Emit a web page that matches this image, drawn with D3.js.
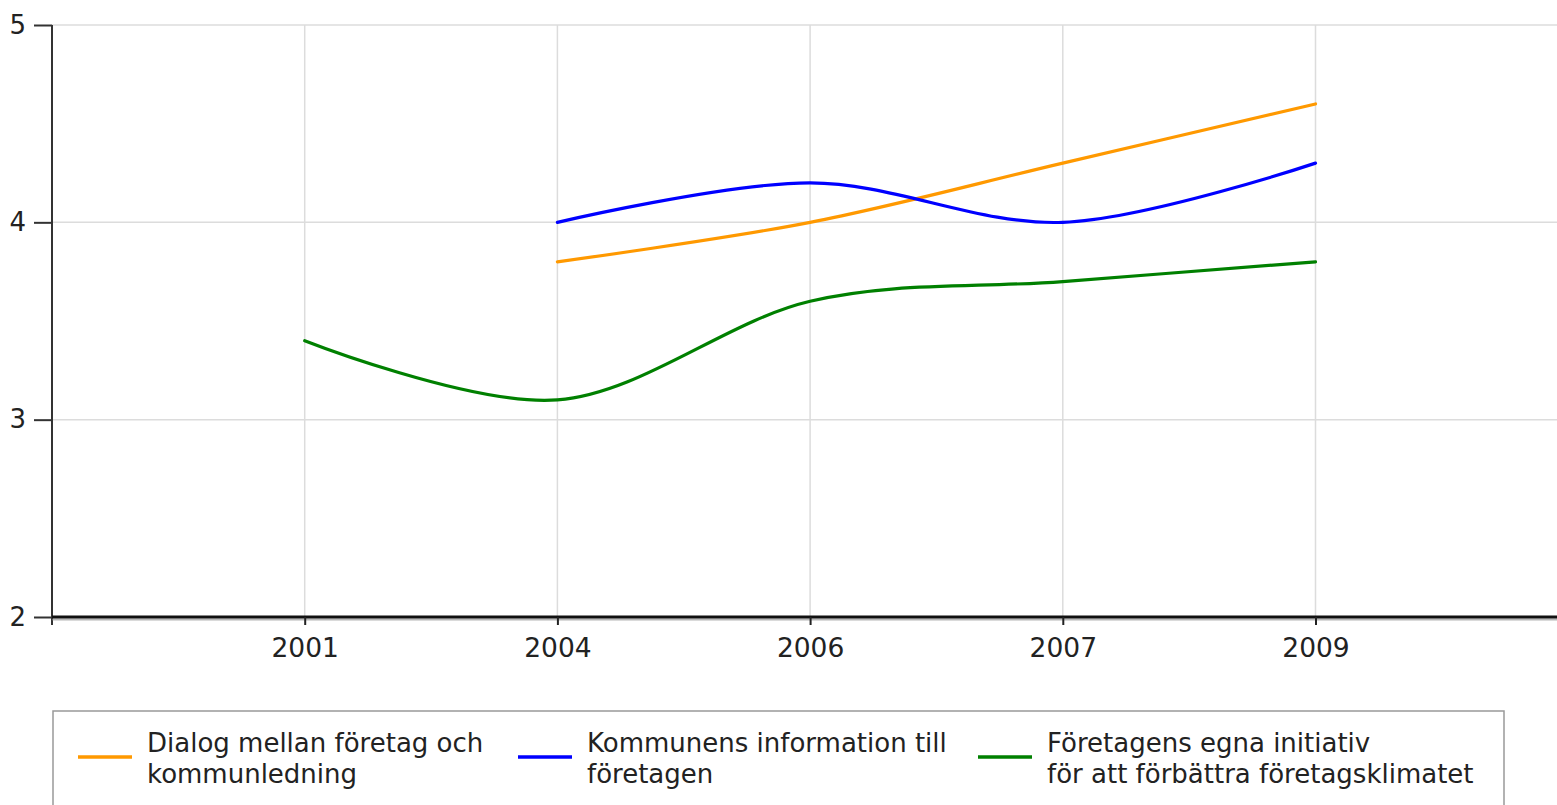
<!DOCTYPE html>
<html><head><meta charset="utf-8">
<script src="https://cdn.jsdelivr.net/npm/d3@7"></script>
<style>
html,body{margin:0;padding:0;background:#fff;}
svg{display:block;font-family:"DejaVu Sans",Arial,Helvetica,sans-serif;}
</style></head>
<body>
<svg id="chart" width="1557" height="805"></svg>
<script>
const years = ["2001","2004","2006","2007","2009"];
const yTicks = [2,3,4,5];
const dialog = [null,3.8,4.0,4.3,4.6];
const information = [null,4.0,4.2,4.0,4.3];
const initiativ = [3.4,3.1,3.6,3.7,3.8];
const seriesNames = [
  ["Dialog mellan företag och","kommunledning"],
  ["Kommunens information till","företagen"],
  ["Företagens egna initiativ","för att förbättra företagsklimatet"]
];
const seriesColors = ["#FF9900","#0000FF","#008000"];
const seriesValues = [dialog, information, initiativ];

(function(){
const FONT = "DejaVu Sans, Arial, sans-serif";
const svg = d3.select("#chart");
const mLeft = 52, mRight = 1557, mTop = 25, mBottom = 617;
const step = 252.7;
const x = d3.scaleLinear().domain([0, 1]).range([mLeft + step, mLeft + 2*step]);
const xi = d => x(years.indexOf(d));
const y = d3.scaleLinear().domain([2,5]).range([mBottom, mTop]);

// grid
const g = svg.append("g");
g.selectAll(".hg").data(yTicks.filter(t=>t>2)).join("line")
  .attr("x1", mLeft).attr("x2", mRight)
  .attr("y1", d=>y(d)).attr("y2", d=>y(d))
  .attr("stroke","#dcdcdc").attr("stroke-width",1.5);
g.selectAll(".vg").data(years).join("line")
  .attr("x1", d=>xi(d)).attr("x2", d=>xi(d))
  .attr("y1", mTop).attr("y2", mBottom)
  .attr("stroke","#dcdcdc").attr("stroke-width",1.5);

// lines
const line = d3.line()
  .defined(d => d.v != null)
  .x(d => xi(d.year)).y(d => y(d.v))
  .curve(d3.curveCardinal.tension(0));
seriesValues.forEach((vals,i) => {
  svg.append("path")
    .datum(years.map((yr,j)=>({year:yr, v:vals[j]})))
    .attr("d", line)
    .attr("fill","none")
    .attr("stroke", seriesColors[i])
    .attr("stroke-width", 3.2)
    .attr("stroke-linecap","round");
});

// y axis
const yAxis = d3.axisLeft(y).tickValues(yTicks).tickSize(18).tickPadding(8).tickFormat(d3.format("d"));
const ya = svg.append("g").attr("transform",`translate(${mLeft},0)`).call(yAxis);
ya.select(".domain").attr("d", `M0,${mTop}V${mBottom+8}`).attr("stroke","#333").attr("stroke-width",2);
ya.selectAll(".tick line").attr("stroke","#333").attr("stroke-width",2);
ya.selectAll(".tick text").attr("font-size",26).attr("fill","#222").attr("font-family",FONT);

// x axis
svg.append("line").attr("x1",mLeft).attr("x2",mRight).attr("y1",mBottom+2.5).attr("y2",mBottom+2.5)
  .attr("stroke","#888").attr("stroke-width",2).attr("opacity",0.6);
const xAxis = d3.axisBottom(x).tickValues(years.map((d,i)=>i)).tickFormat((d)=>years[d]).tickSize(8).tickPadding(13);
const xa = svg.append("g").attr("transform",`translate(0,${mBottom})`).call(xAxis);
xa.select(".domain").attr("d", `M${mLeft},0H${mRight}`).attr("stroke","#111").attr("stroke-width",2.8);
xa.selectAll(".tick line").attr("stroke","#222").attr("stroke-width",2);
xa.selectAll(".tick text").attr("font-size",26.5).attr("fill","#222").attr("font-family",FONT);

// legend
const lg = svg.append("g");
lg.append("rect").attr("x",53).attr("y",711).attr("width",1451).attr("height",110)
  .attr("fill","#fff").attr("stroke","#999").attr("stroke-width",1.5);
const legX = [78, 518, 978];
seriesNames.forEach((nm,i)=>{
  lg.append("line").attr("x1",legX[i]).attr("x2",legX[i]+54).attr("y1",757).attr("y2",757)
    .attr("stroke",seriesColors[i]).attr("stroke-width",3.5);
  const t = lg.append("text").attr("x",legX[i]+69).attr("y",752).attr("font-size",26).attr("fill","#222").attr("font-family",FONT);
  nm.forEach((s,k)=>t.append("tspan").attr("x",legX[i]+69).attr("dy",k?31:0).text(s));
});
})();
</script>
</body></html>
